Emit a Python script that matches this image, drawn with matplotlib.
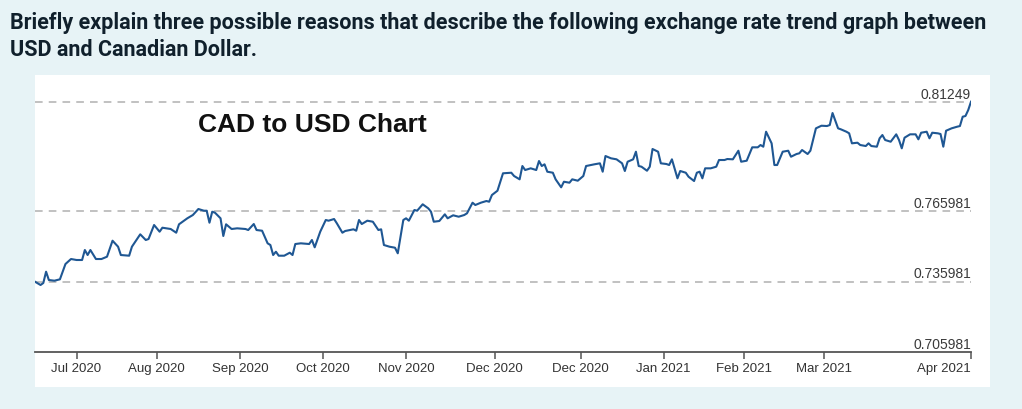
import matplotlib
matplotlib.use("Agg")
import matplotlib.pyplot as plt
from matplotlib.patches import Rectangle
import matplotlib.transforms as mtransforms

# day offsets from the first point, and CAD->USD rate
days = [0, 2, 3, 4, 5, 7, 9, 11, 13, 15, 17, 18, 19, 20, 22, 24, 26, 28, 30, 31,
        34, 35, 38, 40, 41, 43, 45, 46, 49, 51, 52, 55, 57, 59, 61, 62, 63, 64, 65, 67,
        68, 69, 71, 73, 76, 77, 79, 80, 82, 84, 85, 86, 87, 88, 90, 92, 93, 94, 96, 99,
        100, 101, 103, 105, 106, 108, 109, 111, 112, 115, 116, 117, 118, 120, 122, 124, 125, 126, 128, 130,
        131, 133, 134, 135, 137, 138, 140, 142, 143, 144, 146, 148, 149, 151, 153, 155, 156, 158, 159, 161,
        163, 164, 165, 167, 169, 172, 173, 175, 176, 177, 179, 181, 182, 183, 184, 185, 187, 188, 190, 191,
        193, 194, 196, 198, 199, 202, 204, 205, 206, 208, 210, 212, 213, 214, 216, 217, 218, 219, 221, 222,
        223, 225, 226, 228, 229, 230, 232, 233, 235, 236, 238, 239, 240, 241, 242, 244, 246, 247, 249, 250,
        252, 254, 255, 257, 259, 261, 262, 263, 264, 266, 267, 268, 270, 272, 273, 275, 276, 277, 279, 280,
        282, 284, 286, 287, 288, 290, 291, 293, 294, 295, 297, 298, 300, 301, 302, 304, 305, 306, 307, 309,
        311, 312, 313, 314, 316, 318, 319, 320, 322, 323, 324, 326, 327, 328, 329, 331, 333, 334, 335, 336,
        337, 338]
rates = [0.73589, 0.73449, 0.73534, 0.74015, 0.73662, 0.73632, 0.73691, 0.74342, 0.74555, 0.74513,
         0.74513, 0.74938, 0.74725, 0.74938, 0.74555, 0.74555, 0.74653, 0.75334, 0.75079, 0.74725,
         0.74696, 0.75079, 0.75606, 0.75364, 0.75406, 0.76002, 0.75717, 0.75887, 0.75832, 0.75674,
         0.76032, 0.76287, 0.76427, 0.76683, 0.76610, 0.76610, 0.76100, 0.76568, 0.76525, 0.76287,
         0.75534, 0.76032, 0.75832, 0.75861, 0.75832, 0.75789, 0.76044, 0.75789, 0.75759, 0.75223,
         0.75151, 0.74725, 0.74866, 0.74696, 0.74696, 0.74823, 0.74725, 0.75193, 0.75223, 0.75193,
         0.75364, 0.75053, 0.75717, 0.76215, 0.76185, 0.76257, 0.76074, 0.75674, 0.75747, 0.75819,
         0.75759, 0.76215, 0.76044, 0.76185, 0.76142, 0.75789, 0.75819, 0.75151, 0.75079, 0.75036,
         0.74798, 0.76215, 0.76287, 0.76185, 0.76640, 0.76610, 0.76883, 0.76712, 0.76568, 0.76142,
         0.76172, 0.76457, 0.76287, 0.76415, 0.76355, 0.76427, 0.76500, 0.76951, 0.76853, 0.76951,
         0.77023, 0.76993, 0.77278, 0.77461, 0.78202, 0.78227, 0.78087, 0.77946, 0.78512, 0.78342,
         0.78414, 0.78342, 0.78725, 0.78512, 0.78585, 0.78270, 0.78227, 0.77946, 0.77606, 0.77844,
         0.77802, 0.77946, 0.77887, 0.78087, 0.78512, 0.78585, 0.78627, 0.78270, 0.78938, 0.78840,
         0.78797, 0.78627, 0.78300, 0.78695, 0.78797, 0.79121, 0.78512, 0.78483, 0.78312, 0.78483,
         0.79236, 0.79121, 0.78627, 0.78598, 0.78555, 0.78797, 0.77989, 0.78300, 0.78227, 0.78057,
         0.77874, 0.78227, 0.78270, 0.77989, 0.78414, 0.78414, 0.78483, 0.78768, 0.78768, 0.78810,
         0.78797, 0.79163, 0.78695, 0.78738, 0.79308, 0.79308, 0.79406, 0.79334, 0.79972, 0.79478,
         0.78555, 0.78555, 0.79121, 0.79163, 0.78908, 0.79023, 0.79053, 0.79193, 0.79023, 0.79163,
         0.80116, 0.80227, 0.80214, 0.80257, 0.80767, 0.80116, 0.80074, 0.79972, 0.79904, 0.79478,
         0.79504, 0.79406, 0.79363, 0.79478, 0.79363, 0.79334, 0.79691, 0.79831, 0.79619, 0.79546,
         0.79861, 0.79619, 0.79265, 0.79717, 0.79861, 0.79861, 0.79648, 0.79929, 0.79972, 0.79691,
         0.79929, 0.79904, 0.79874, 0.79334, 0.80014, 0.80116, 0.80185, 0.80214, 0.80610, 0.80640,
         0.80895, 0.81249]

tick_days = [15, 44, 74, 104, 134, 166, 197, 227, 256, 285, 338]
tick_labels = ["Jul 2020", "Aug 2020", "Sep 2020", "Oct 2020", "Nov 2020", "Dec 2020",
               "Dec 2020", "Jan 2021", "Feb 2021", "Mar 2021", "Apr 2021"]
grid_levels = [0.705981, 0.735981, 0.765981, 0.81249]
grid_labels = ["0.705981", "0.735981", "0.765981", "0.81249"]

W, H = 1022, 409
fig = plt.figure(figsize=(W / 100, H / 100), dpi=100, facecolor="#e7f3f6")

# white card behind the chart
fig.patches.append(Rectangle((35 / W, 1 - 387 / H), (990 - 35) / W, (387 - 75) / H,
                             transform=fig.transFigure, facecolor="white",
                             edgecolor="none", zorder=-5))

fig.text(10 / W, 1 - 23 / H,
         "Briefly explain three possible reasons that describe the following exchange rate trend graph between",
         family="Roboto", fontweight="bold", fontsize=15.5,
         color="#10202c", va="center", ha="left")
fig.text(10 / W, 1 - 50 / H, "USD and Canadian Dollar.",
         family="Roboto", fontweight="bold", fontsize=15.5,
         color="#10202c", va="center", ha="left")

ax = fig.add_axes([35 / W, 1 - 352 / H, (971 - 35) / W, (352 - 90) / H], zorder=2)
ax.set_facecolor("none")
ax.plot(days, rates, color="#1f5793", lw=1.5, zorder=3)
ax.set_xlim(0, 338)
ax.set_ylim(0.705981, 0.705981 + 262 * 0.03 / 70.5)

for lv in grid_levels[1:]:
    ax.axhline(lv, color="#b0b0b0", lw=1.1, ls=(0, (5, 4)), zorder=1)

trans = mtransforms.blended_transform_factory(ax.transAxes, ax.transData)
for lv, lab in zip(grid_levels, grid_labels):
    ax.text(1.0, lv, lab, transform=trans, ha="right", va="bottom",
            family="Liberation Sans", fontsize=10, color="#3a3a3a")

for s in ["top", "left", "right"]:
    ax.spines[s].set_visible(False)
ax.spines["bottom"].set_color("#555555")
ax.spines["bottom"].set_linewidth(1.3)
ax.set_yticks([])
ax.set_xticks(tick_days)
ax.set_xticklabels(tick_labels, family="Liberation Sans", fontsize=9.5, color="#333333")
ax.get_xticklabels()[-1].set_horizontalalignment("right")
ax.tick_params(axis="x", length=5, width=1.1, color="#555555", pad=3)

fig.text(198 / W, 1 - 125 / H, "CAD to USD Chart", family="Liberation Sans",
         fontweight="bold", fontsize=19, color="#111111", va="center", ha="left", zorder=3)

fig.savefig("out.png", dpi=100, facecolor=fig.get_facecolor())
